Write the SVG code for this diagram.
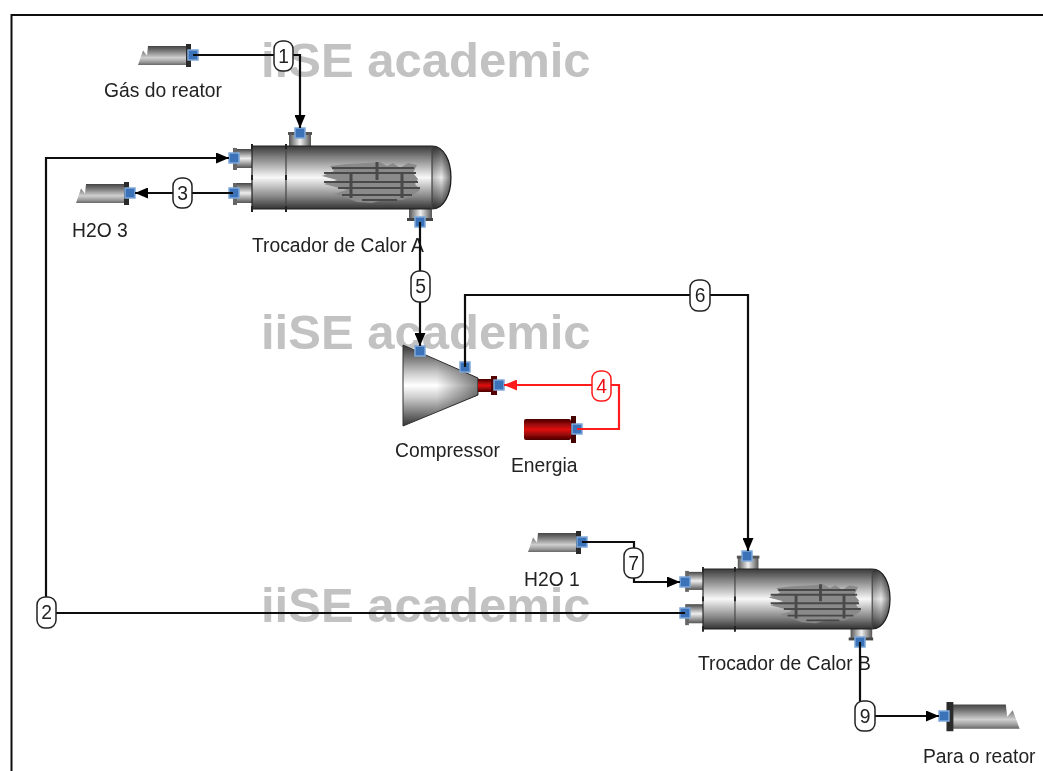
<svg xmlns="http://www.w3.org/2000/svg" width="1043" height="771" viewBox="0 0 1043 771">
<style>
text{font-family:"Liberation Sans",Arial,sans-serif;font-size:19.300px;fill:#222}
.wm{font-size:49px;font-weight:bold;fill:#c2c2c2}
.ln{fill:none;stroke:#111;stroke-width:2.200}
.red{fill:none;stroke:#ff1a1a;stroke-width:2.200}
.lb{fill:#fff;stroke:#222;stroke-width:1.500}
.lbr{fill:#fff;stroke:#ff1a1a;stroke-width:1.500}
.n{text-anchor:middle}
.nr{text-anchor:middle;fill:#ee1111}
.port{fill:#3a72b8;stroke:#7fa8d8;stroke-width:1.500}
</style>
<defs>
<filter id="soft" x="0" y="0" width="100%" height="100%"><feGaussianBlur stdDeviation="0.550"/></filter>
<linearGradient id="gv" x1="0" y1="0" x2="0" y2="1"><stop offset="0" stop-color="#3a3a3a"/><stop offset=".2" stop-color="#888"/><stop offset=".5" stop-color="#f8f8f8"/><stop offset=".8" stop-color="#888"/><stop offset="1" stop-color="#333"/></linearGradient>
<linearGradient id="gt" x1="0" y1="0" x2="0" y2="1"><stop offset="0" stop-color="#444"/><stop offset=".5" stop-color="#eee"/><stop offset="1" stop-color="#555"/></linearGradient>
<linearGradient id="gk" x1="0" y1="0" x2="0" y2="1"><stop offset="0" stop-color="#444"/><stop offset=".25" stop-color="#777"/><stop offset=".62" stop-color="#d0d0d0"/><stop offset=".85" stop-color="#999"/><stop offset="1" stop-color="#666"/></linearGradient>
<linearGradient id="gh" x1="0" y1="0" x2="1" y2="0"><stop offset="0" stop-color="#555"/><stop offset=".5" stop-color="#f0f0f0"/><stop offset="1" stop-color="#555"/></linearGradient>
<linearGradient id="gd" x1="0" y1="0" x2="1" y2="0"><stop offset="0" stop-color="#000" stop-opacity=".25"/><stop offset=".5" stop-color="#000" stop-opacity=".05"/><stop offset="1" stop-color="#000" stop-opacity=".55"/></linearGradient>
<linearGradient id="gr" x1="0" y1="0" x2="0" y2="1"><stop offset="0" stop-color="#4a0000"/><stop offset=".5" stop-color="#e01010"/><stop offset="1" stop-color="#4a0000"/></linearGradient>
<linearGradient id="gc" x1="0" y1="0" x2="0" y2="1"><stop offset="0" stop-color="#333"/><stop offset=".35" stop-color="#ccc"/><stop offset=".5" stop-color="#fff"/><stop offset=".65" stop-color="#ccc"/><stop offset="1" stop-color="#333"/></linearGradient>
<linearGradient id="gcd" x1="0" y1="0" x2="1" y2="0"><stop offset=".45" stop-color="#000" stop-opacity="0"/><stop offset="1" stop-color="#000" stop-opacity=".5"/></linearGradient>
<marker id="ah" viewBox="0 0 13 11" refX="13" refY="5.500" markerWidth="13" markerHeight="11" markerUnits="userSpaceOnUse" orient="auto"><path d="M0 0L13 5.500L0 11Z" fill="#000"/></marker>
<marker id="ar" viewBox="0 0 13 11" refX="13" refY="5.500" markerWidth="13" markerHeight="11" markerUnits="userSpaceOnUse" orient="auto"><path d="M0 0L13 5.500L0 11Z" fill="#ff1a1a"/></marker>
<g id="hx">
<rect x="37" y="-13" width="22" height="13" fill="url(#gh)"/>
<rect x="36" y="-14" width="24" height="3" fill="#555"/>
<rect x="157" y="63" width="23" height="10" fill="url(#gh)"/>
<rect x="155" y="72" width="26" height="3" fill="#444"/>
<rect x="-18" y="3" width="18" height="19" fill="url(#gt)"/>
<rect x="-18" y="37" width="18" height="20" fill="url(#gt)"/>
<rect x="-19" y="2" width="4" height="22" fill="#666"/>
<rect x="-19" y="37" width="4" height="22" fill="#666"/>
<path d="M0 0H180C192 0 199 15 199 31.500C199 48 192 63 180 63H0Z" fill="url(#gv)" stroke="#222" stroke-width="1.200"/>
<path d="M180 0C192 0 199 15 199 31.500C199 48 192 63 180 63Z" fill="url(#gd)"/>
<path d="M180 0V63M34 0V63" stroke="#444" stroke-width="1.200"/>
<path d="M0 -2V3M0 29V34M0 60V66M34 -2V3M34 29V34M34 60V66" stroke="#222" stroke-width="2"/>
<path d="M78 20L95 18L115 17L128 16L135 20L141 17L148 22L156 17L165 19L161 27L166 33L163 38L168 44L160 50L150 54L135 53L120 57L105 56L95 52L82 48L95 44L72 38L85 34L70 30L82 25Z" fill="#8a8a8a"/>
<path d="M80 22H162M72 27H164M72 36H166M86 42H168M90 49H160M110 54H145" stroke="#4a4a4a" stroke-width="2"/>
<path d="M99 27V52M150 27V52M125 16V34" stroke="#484848" stroke-width="3"/>
</g>
<g id="tank">
<path d="M0 -9H-39L-40 .5L-44 -4.500L-49 10H0Z" fill="url(#gk)"/>
<rect x="-1" y="-11" width="5" height="23" fill="#2a2a2a"/>
</g>
</defs>
<g filter="url(#soft)">
<rect width="1043" height="771" fill="#fff"/>
<path d="M11.500 771V15H1043" fill="none" stroke="#111" stroke-width="2"/>
<g id="watermarks">
<text class="wm" x="261" y="77">iiSE academic</text>
<text class="wm" x="261" y="349">iiSE academic</text>
<text class="wm" x="261" y="622">iiSE academic</text>
</g>
<g id="hx-a"><use href="#hx" x="252" y="146"/><rect class="port" x="295" y="128" width="10" height="10"/><rect class="port" x="229" y="153" width="10" height="10"/><rect class="port" x="229" y="188" width="10" height="10"/><rect class="port" x="415" y="217" width="10" height="10"/><text x="252" y="252">Trocador de Calor A</text></g>
<g id="hx-b"><g transform="translate(703 569) scale(.94 .952)"><use href="#hx"/></g><rect class="port" x="742" y="551" width="10" height="10"/><rect class="port" x="680" y="577" width="10" height="10"/><rect class="port" x="680" y="608" width="10" height="10"/><rect class="port" x="855" y="637" width="10" height="10"/><text x="698" y="670">Trocador de Calor B</text></g>
<g id="compressor"><path d="M403 345L478 378V395L403 426Z" fill="url(#gc)" stroke="#333"/><path d="M403 345L478 378V395L403 426Z" fill="url(#gcd)"/><rect x="478" y="379" width="13" height="13" fill="url(#gr)"/><rect x="491" y="376" width="6" height="19" fill="#500"/><rect class="port" x="415" y="346" width="10" height="10"/><rect class="port" x="460" y="362" width="10" height="10"/><rect class="port" x="494" y="380" width="10" height="10"/><text x="395" y="457">Compressor</text></g>
<g id="gas-reator"><use href="#tank" x="187" y="55"/><rect class="port" x="188" y="50" width="10" height="10"/><text x="104" y="97">Gás do reator</text></g>
<g id="h2o-3"><use href="#tank" x="125" y="193"/><rect class="port" x="125" y="188" width="10" height="10"/><text x="72" y="237">H2O 3</text></g>
<g id="h2o-1"><use href="#tank" x="577" y="542"/><rect class="port" x="577" y="537" width="10" height="10"/><text x="524" y="586">H2O 1</text></g>
<g id="para-reator"><g transform="translate(952 716) scale(-1.380 1.270)"><use href="#tank"/></g><rect class="port" x="939" y="711" width="10" height="10"/><text x="923" y="763">Para o reator</text></g>
<g id="energia"><rect x="524" y="419" width="47" height="21" rx="2" fill="url(#gr)"/><rect x="571" y="416" width="5" height="27" fill="#400"/><rect class="port" x="572" y="424" width="10" height="10"/><text x="511" y="472">Energia</text></g>
<g id="connectors">
<path class="ln" d="M193 55H300V128" marker-end="url(#ah)"/>
<path class="ln" d="M233 193H135" marker-end="url(#ah)"/>
<path class="ln" d="M685 613H46V158H229" marker-end="url(#ah)"/>
<path class="ln" d="M420 222V346" marker-end="url(#ah)"/>
<path class="ln" d="M465 367V295H748V551" marker-end="url(#ah)"/>
<path class="red" d="M577 429H619V385H504" marker-end="url(#ar)"/>
<path class="ln" d="M582 542H634V582H680" marker-end="url(#ah)"/>
<path class="ln" d="M860 642V716H939" marker-end="url(#ah)"/>
<rect class="lb" x="274" y="41" width="19" height="30" rx="8"/><text class="n" x="283.500" y="63">1</text>
<rect class="lb" x="37" y="597" width="19" height="31" rx="8"/><text class="n" x="46.500" y="619">2</text>
<rect class="lb" x="173" y="178" width="19" height="30" rx="8"/><text class="n" x="182.500" y="200">3</text>
<rect class="lbr" x="592" y="371" width="19" height="30" rx="8"/><text class="nr" x="601.500" y="393">4</text>
<rect class="lb" x="411" y="271" width="19" height="31" rx="8"/><text class="n" x="420.500" y="293">5</text>
<rect class="lb" x="690" y="280" width="20" height="31" rx="8"/><text class="n" x="700" y="302">6</text>
<rect class="lb" x="624" y="548" width="19" height="30" rx="8"/><text class="n" x="633.500" y="570">7</text>
<rect class="lb" x="855" y="701" width="20" height="30" rx="8"/><text class="n" x="865" y="723">9</text>
</g>
</g>
</svg>
